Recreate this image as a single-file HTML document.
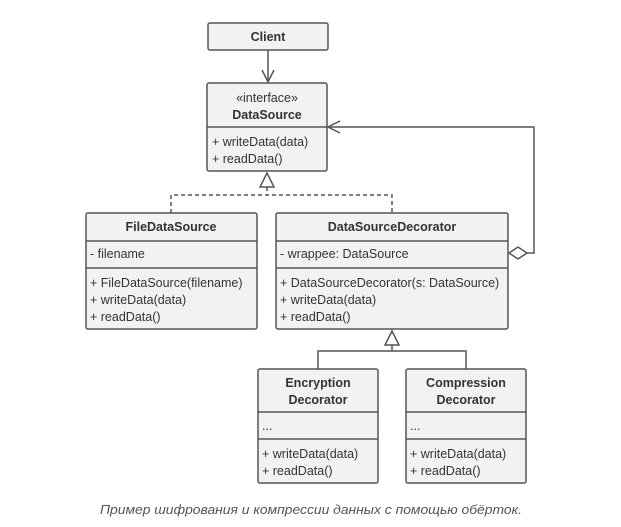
<!DOCTYPE html>
<html><head><meta charset="utf-8"><style>
html,body{margin:0;padding:0;background:#fff;}
svg{display:block;}
text{font-family:"Liberation Sans",sans-serif;fill:#333;font-size:12.5px;}
.b{font-weight:bold;}
</style></head><body>
<svg width="621" height="527" viewBox="0 0 621 527" xmlns="http://www.w3.org/2000/svg">
<g stroke="#555" stroke-width="1.5" fill="#f2f2f2">
<rect x="208" y="23" width="120" height="27" rx="2"/>
<rect x="207" y="83" width="120" height="88" rx="2"/>
<rect x="86" y="213" width="171" height="116" rx="2"/>
<rect x="276" y="213" width="232" height="116" rx="2"/>
<rect x="258" y="369" width="120" height="114" rx="2"/>
<rect x="406" y="369" width="120" height="114" rx="2"/>
</g>
<g stroke="#555" stroke-width="1.5" fill="none">
<line x1="207" y1="127" x2="327" y2="127"/>
<line x1="86" y1="241" x2="257" y2="241"/><line x1="86" y1="268" x2="257" y2="268"/>
<line x1="276" y1="241" x2="508" y2="241"/><line x1="276" y1="268" x2="508" y2="268"/>
<line x1="258" y1="412" x2="378" y2="412"/><line x1="258" y1="439" x2="378" y2="439"/>
<line x1="406" y1="412" x2="526" y2="412"/><line x1="406" y1="439" x2="526" y2="439"/>
<!-- client arrow -->
<line x1="268" y1="50" x2="268" y2="82"/>
<polyline points="262,70 268,82 274,70"/>
<!-- realization -->
<polygon points="267,173 260,187 274,187" fill="#fff"/>
<path d="M267 187 V195 M171 213 V195 H392 V213" stroke-dasharray="4,3"/>
<!-- aggregation -->
<polygon points="509,253 518,247 527,253 518,259" fill="#fff"/>
<polyline points="527,253 534,253 534,127 328,127"/>
<polyline points="340,121 328,127 340,133"/>
<!-- inheritance -->
<polygon points="392,331 385,345 399,345" fill="#fff"/>
<path d="M392 345 V351 M318 369 V351 H466 V369"/>
</g>
<text class="b" x="268" y="41" text-anchor="middle">Client</text>
<text x="267" y="102" text-anchor="middle">«interface»</text>
<text class="b" x="267" y="119" text-anchor="middle">DataSource</text>
<text x="212" y="146">+ writeData(data)</text>
<text x="212" y="163">+ readData()</text>
<text class="b" x="171" y="231" text-anchor="middle">FileDataSource</text>
<text x="90" y="258">- filename</text>
<text x="90" y="287">+ FileDataSource(filename)</text>
<text x="90" y="304">+ writeData(data)</text>
<text x="90" y="321">+ readData()</text>
<text class="b" x="392" y="231" text-anchor="middle">DataSourceDecorator</text>
<text x="280" y="258">- wrappee: DataSource</text>
<text x="280" y="287">+ DataSourceDecorator(s: DataSource)</text>
<text x="280" y="304">+ writeData(data)</text>
<text x="280" y="321">+ readData()</text>
<text class="b" x="318" y="387" text-anchor="middle">Encryption</text>
<text class="b" x="318" y="404" text-anchor="middle">Decorator</text>
<text x="262" y="430">...</text>
<text x="262" y="458">+ writeData(data)</text>
<text x="262" y="475">+ readData()</text>
<text class="b" x="466" y="387" text-anchor="middle">Compression</text>
<text class="b" x="466" y="404" text-anchor="middle">Decorator</text>
<text x="410" y="430">...</text>
<text x="410" y="458">+ writeData(data)</text>
<text x="410" y="475">+ readData()</text>
<text x="311" y="514" text-anchor="middle" style="font-style:italic;fill:#555;font-size:13px;font-family:'Liberation Sans','Noto Sans CJK SC',sans-serif" textLength="422" lengthAdjust="spacingAndGlyphs">Пример шифрования и компрессии данных с помощью обёрток.</text>
</svg>
</body></html>
